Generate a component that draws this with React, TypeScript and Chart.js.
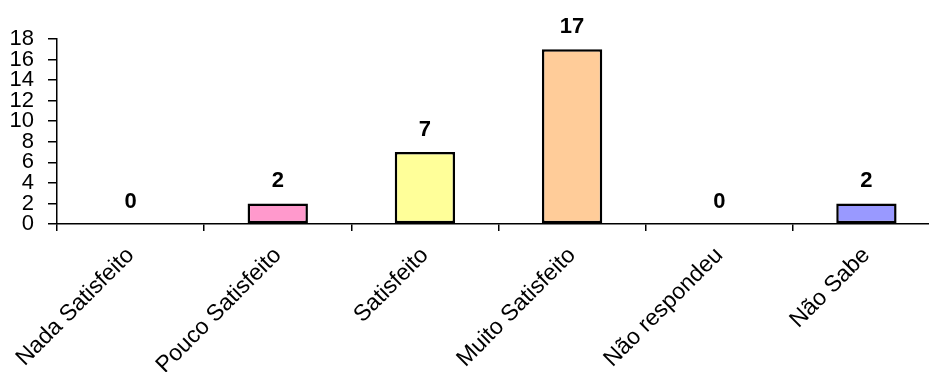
import React, { useEffect, useRef } from "react";
import { Chart, registerables } from "chart.js";

Chart.register(...registerables);

// Satisfaction survey: number of answers per category
const categories = [
  "Nada Satisfeito",
  "Pouco Satisfeito",
  "Satisfeito",
  "Muito Satisfeito",
  "Não respondeu",
  "Não Sabe",
];
const answers = [0, 2, 7, 17, 0, 2];
const barColors = ["#9999FF", "#FF99CC", "#FFFF99", "#FFCC99", "#CCFFFF", "#9999FF"];
const yTicks = [0, 2, 4, 6, 8, 10, 12, 14, 16, 18];

const FONT = "'Liberation Sans', Arial, sans-serif";

// Writes each bar's value above it
const valueLabels = {
  id: "valueLabels",
  afterDatasetsDraw(chart: any) {
    const ctx = chart.ctx;
    const meta = chart.getDatasetMeta(0);
    ctx.save();
    ctx.font = `bold 22px ${FONT}`;
    ctx.fillStyle = "#000";
    ctx.textAlign = "center";
    ctx.textBaseline = "alphabetic";
    meta.data.forEach((bar: any, i: number) => {
      ctx.fillText(String(answers[i]), bar.x, bar.y - 16);
    });
    ctx.restore();
  },
};

export default function App() {
  const canvasRef = useRef<HTMLCanvasElement | null>(null);

  useEffect(() => {
    document.documentElement.style.overflow = "hidden";
    document.body.style.overflow = "hidden";
    const canvas = canvasRef.current;
    if (!canvas) return;
    const chart = new Chart(canvas, {
      type: "bar",
      data: {
        labels: categories,
        datasets: [
          {
            data: answers,
            backgroundColor: barColors,
            borderColor: "#000",
            borderWidth: 2.5,
            borderSkipped: false,
            categoryPercentage: 1,
            barPercentage: 0.41,
          },
        ],
      },
      options: {
        responsive: false,
        animation: false,
        events: [],
        layout: { padding: { top: 39, left: 0, right: 0, bottom: 0 } },
        plugins: {
          legend: { display: false },
          tooltip: { enabled: false },
        },
        scales: {
          x: {
            offset: true,
            grid: {
              offset: true,
              drawOnChartArea: false,
              drawTicks: true,
              tickLength: 7,
              color: "#000",
              lineWidth: 1.5,
            },
            border: { display: true, color: "#000", width: 1.5 },
            ticks: {
              autoSkip: false,
              minRotation: 45,
              maxRotation: 45,
              padding: 11,
              color: "#000",
              font: { family: FONT, size: 23 },
            },
            afterFit(scale: any) {
              scale.height = 148;
            },
          },
          y: {
            min: 0,
            max: 18,
            afterBuildTicks(scale: any) {
              scale.ticks = yTicks.map((v) => ({ value: v }));
            },
            grid: {
              drawOnChartArea: false,
              drawTicks: true,
              tickLength: 9,
              color: "#000",
              lineWidth: 1.5,
            },
            border: { display: true, color: "#000", width: 1.5 },
            ticks: {
              autoSkip: false,
              padding: 14,
              color: "#000",
              font: { family: FONT, size: 22 },
            },
            afterFit(scale: any) {
              scale.width = 57;
            },
          },
        },
      },
      plugins: [valueLabels],
    });
    return () => chart.destroy();
  }, []);

  return (
    <div style={{ position: "absolute", left: 0, top: 0, width: 940, height: 372, background: "#fff" }}>
      <canvas ref={canvasRef} width={940} height={372} style={{ display: "block" }} />
    </div>
  );
}
